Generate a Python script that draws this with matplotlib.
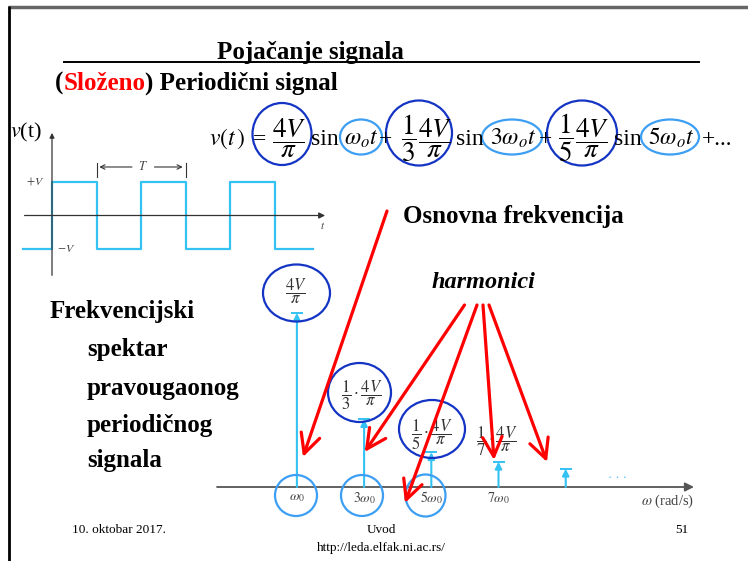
import matplotlib
matplotlib.use('Agg')
import matplotlib.pyplot as plt
from matplotlib.patches import Ellipse

plt.rcParams['font.family'] = ['Liberation Serif', 'DejaVu Serif']
plt.rcParams['mathtext.fontset'] = 'stix'

# square wave (time in periods T, level in V)
wave_t = [-0.33, 0.0, 0.5, 1.0, 1.5, 2.0, 2.5, 2.93]
wave_v = [-1, 1, -1, 1, -1, 1, -1, -1]

# spectrum: harmonic number and amplitude relative to 4V/pi
harmonics = [1, 3, 5, 7, 9]
amplitudes = [1.0, 0.39, 0.20, 0.145, 0.105]
tick_labels = [r'$\omega_0$', r'$3\omega_0$', r'$5\omega_0$', r'$7\omega_0$']
amp_labels = [r'$\dfrac{4V}{\pi}$',
              r'$\dfrac{1}{3}\cdot\dfrac{4V}{\pi}$',
              r'$\dfrac{1}{5}\cdot\dfrac{4V}{\pi}$',
              r'$\dfrac{1}{7}\cdot\dfrac{4V}{\pi}$']
left_lines = ['Frekvencijski', 'spektar', 'pravougaonog', 'periodičnog', 'signala']

W, H = 748, 561
CYAN = '#33c2f2'
DARK = '#1434c4'
LIGHT = '#3d9ff3'
RED = '#ff0000'

fig = plt.figure(figsize=(7.48, 5.61), dpi=100)


def rect(x0, y0, x1, y1):
    return [x0 / W, 1 - y1 / H, (x1 - x0) / W, (y1 - y0) / H]


# ---- square wave
sq = fig.add_axes(rect(20, 125, 335, 280))
sq.set_xlim((20 - 52) / 89, (335 - 52) / 89)
sq.set_ylim((215.5 - 280) / 33.5, (215.5 - 125) / 33.5)
sq.axis('off')
sq.step(wave_t, wave_v, where='post', color=CYAN, lw=1.6)
sq.annotate('', xy=(3.10, 0), xytext=(-0.34, 0),
            arrowprops=dict(arrowstyle='-|>', color='#333333', lw=0.9, mutation_scale=9))
sq.annotate('', xy=(0, 2.55), xytext=(0, -1.87),
            arrowprops=dict(arrowstyle='-|>', color='#333333', lw=0.9, mutation_scale=7))
for tt in [0.5, 1.5]:
    sq.plot([tt, tt], [1.15, 1.57], color='#333333', lw=0.8)
sq.annotate('', xy=(0.5, 1.448), xytext=(0.93, 1.448),
            arrowprops=dict(arrowstyle='->', color='#333333', lw=0.8, mutation_scale=8))
sq.annotate('', xy=(1.5, 1.448), xytext=(1.12, 1.448),
            arrowprops=dict(arrowstyle='->', color='#333333', lw=0.8, mutation_scale=8))
sq.text(1.02, 1.448, r'$T$', ha='center', va='center', fontsize=9, color='#444444')
sq.text(-0.19, 1.0, r'$+V$', ha='center', va='center', fontsize=8.5, color='#444444')
sq.text(0.157, -1.0, r'$-V$', ha='center', va='center', fontsize=8.5, color='#444444')
sq.text(3.04, -0.31, r'$t$', ha='center', va='center', fontsize=8, color='#444444')

# ---- spectrum
sp = fig.add_axes(rect(217, 290, 694, 487))
sp.set_xlim(-1.378, 12.818)
sp.set_ylim(0, 1.132)
sp.axis('off')
sp.annotate('', xy=(12.818, 0), xytext=(-1.378, 0), annotation_clip=False,
            arrowprops=dict(arrowstyle='-|>', color='#555555', lw=1.3, mutation_scale=13,
                            shrinkA=0, shrinkB=0))
for n, a in zip(harmonics, amplitudes):
    sp.annotate('', xy=(n, a), xytext=(n, 0),
                arrowprops=dict(arrowstyle='-|>', color=CYAN, lw=1.5, mutation_scale=10,
                                shrinkA=0, shrinkB=0))
    sp.plot([n], [a], marker='_', ms=8, mew=1.4, color=CYAN)
for n, lab in zip(harmonics, tick_labels):
    sp.annotate(lab, xy=(n, 0), xytext=(0, -11), textcoords='offset pixels',
                ha='center', va='center', fontsize=10, color='#444444', annotation_clip=False)
label_offsets = [(-1, 22), (-2, 24), (1, 17), (-2, 20)]
for n, a, lab, off in zip(harmonics, amplitudes, amp_labels, label_offsets):
    sp.annotate(lab, xy=(n, a), xytext=off, textcoords='offset pixels',
                ha='center', va='center', fontsize=12, color='#333333')
sp.text(10.54, 0.05, '· · ·', ha='center', va='center', fontsize=9, color=CYAN)
sp.annotate(r'$\omega$ (rad/s)', xy=(12.818, 0), xytext=(0, -14), textcoords='offset pixels',
            ha='right', va='center', fontsize=10.5, color='#444444', annotation_clip=False)

# ---- overlay in pixel coordinates
ov = fig.add_axes([0, 0, 1, 1])
ov.set_xlim(0, W)
ov.set_ylim(H, 0)
ov.axis('off')
ov.patch.set_alpha(0)

ov.plot([8, W], [7, 7], color='#666666', lw=2.5, solid_capstyle='butt')
ov.plot([9, 9], [6, H], color='black', lw=2, solid_capstyle='butt')

ov.text(310.5, 59, 'Pojačanje signala', ha='center', va='baseline',
        fontsize=18, fontweight='bold')
ov.plot([64, 699], [62, 62], color='black', lw=1.4)

r = fig.canvas.get_renderer()
x = 55
for s, c in [('(', 'black'), ('Složeno', RED), (') Periodični signal', 'black')]:
    t = ov.text(x, 90, s, ha='left', va='baseline', fontsize=18, fontweight='bold', color=c)
    x += t.get_window_extent(r).width

ov.text(10, 137, r'$v$(t)', ha='left', va='baseline', fontsize=16)

# equation
eq_main = [(227, r'$v(t\,)$'), (260, '='), (325, 'sin'), (361, r'$\omega_o t$'), (386, '+'),
           (470, 'sin'), (513, r'$3\omega_o t$'), (546, '+'), (628, 'sin'),
           (671, r'$5\omega_o t$'), (717.5, '+...')]
for xc, s in eq_main:
    ov.text(xc, 145, s, ha='center', va='baseline', fontsize=17)
eq_frac = [(289, r'$\dfrac{4V}{\pi}$'), (408.5, r'$\dfrac{1}{3}$'), (435, r'$\dfrac{4V}{\pi}$'),
           (566, r'$\dfrac{1}{5}$'), (592, r'$\dfrac{4V}{\pi}$')]
for xc, s in eq_frac:
    ov.text(xc, 138, s, ha='center', va='center', fontsize=19.5)

for cx, cy, w, h in [(282, 134, 59, 62), (419, 133, 66, 65), (582, 133, 70, 65),
                     (296.5, 293, 67, 57), (359.5, 392.5, 63, 59), (432, 429, 66, 58)]:
    ov.add_patch(Ellipse((cx, cy), w, h, fill=False, ec=DARK, lw=1.6))
for cx, cy, w, h in [(361, 137, 42, 35), (512, 137, 60, 35), (670, 137, 58, 35),
                     (296, 495.5, 42, 41), (362, 495.5, 42, 41), (425.5, 495.5, 40, 42)]:
    ov.add_patch(Ellipse((cx, cy), w, h, fill=False, ec=LIGHT, lw=1.6))

ov.text(403, 223, 'Osnovna frekvencija', ha='left', va='baseline', fontsize=18, fontweight='bold')
ov.text(432, 288, 'harmonici', ha='left', va='baseline', fontsize=17.5,
        fontweight='bold', style='italic')

for (x0, y0), s in zip([(50, 318), (87, 356), (87, 395), (87, 432), (87, 467)], left_lines):
    ov.text(x0, y0, s, ha='left', va='baseline', fontsize=18, fontweight='bold')

for (x0, y0), (x1, y1) in [((387, 211), (303, 457)), ((464.5, 305), (364.7, 452)),
                           ((477, 305), (405, 503)), ((483, 305), (494, 460)),
                           ((489, 305), (547, 462))]:
    ov.annotate('', xy=(x1, y1), xytext=(x0, y0),
                arrowprops=dict(arrowstyle='->,head_length=0.7,head_width=0.35', color=RED,
                                lw=2.3, mutation_scale=20, shrinkA=0, shrinkB=0))

ov.text(72, 530, '10. oktobar 2017.', ha='left', va='center', fontsize=9.5)
ov.text(381, 530, 'Uvod', ha='center', va='center', fontsize=9.5)
ov.text(682, 530, '51', ha='center', va='center', fontsize=9.5)
ov.text(381, 548, 'http://leda.elfak.ni.ac.rs/', ha='center', va='center', fontsize=9.5)

fig.savefig('out.png', dpi=100)
